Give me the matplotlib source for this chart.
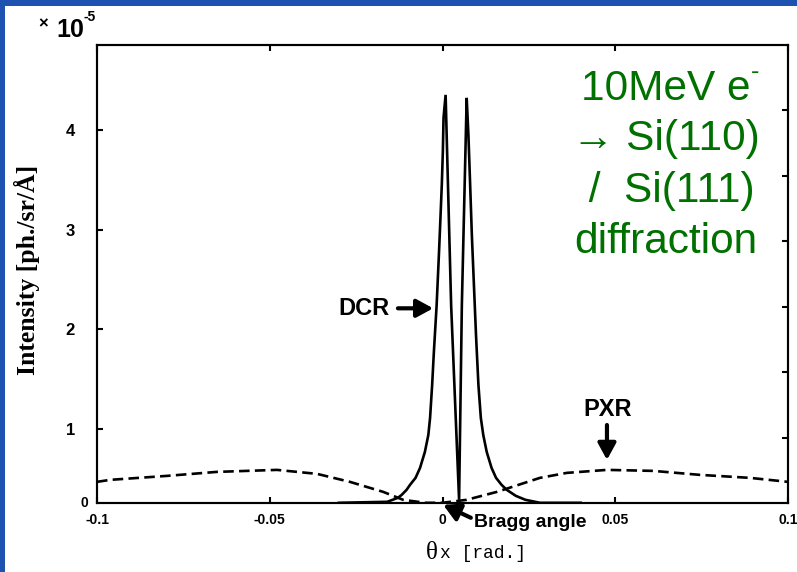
import matplotlib.pyplot as plt
from matplotlib.patches import Rectangle

# DCR (solid) curve, left axis units
dcr_x = [-0.030, -0.016, -0.0129, -0.0118, -0.0104, -0.0094, -0.0078, -0.0065,
         -0.0051, -0.0041, -0.0036, -0.0030, -0.0025, -0.0017, -0.0010, -0.0006,
         -0.0002, 0.0001, 0.0003, 0.0009, 0.0025, 0.0048, 0.0056, 0.0070,
         0.0075, 0.0080, 0.0085, 0.0091, 0.0097, 0.0104, 0.0111, 0.0118,
         0.0128, 0.0142, 0.0155, 0.0171, 0.0186, 0.0212, 0.0240, 0.0282, 0.040]
dcr_y = [0.26, 0.27, 0.31, 0.34, 0.39, 0.44, 0.51, 0.61,
         0.77, 0.94, 1.11, 1.44, 1.77, 2.24, 2.78, 3.11,
         3.45, 3.78, 4.12, 4.35, 2.24, 0.29, 2.24, 4.32,
         3.95, 3.45, 2.94, 2.44, 1.94, 1.44, 1.11, 0.94,
         0.77, 0.61, 0.51, 0.44, 0.39, 0.33, 0.29, 0.26, 0.26]

# PXR (dashed) curve
pxr_x = [-0.1, -0.0962, -0.0797, -0.0653, -0.0479, -0.0363, -0.0268, -0.0172,
         -0.0114, -0.005, 0.0, 0.007, 0.0158, 0.0282, 0.036, 0.0476, 0.061,
         0.0745, 0.089, 0.1]
pxr_y = [0.47, 0.49, 0.53, 0.57, 0.59, 0.55, 0.47, 0.37,
         0.29, 0.26, 0.26, 0.29, 0.37, 0.51, 0.56, 0.59, 0.58,
         0.54, 0.51, 0.47]

x_ticks = [-0.1, -0.05, 0, 0.05, 0.1]
x_tick_labels = ["-0.1", "-0.05", "0", "0.05", "0.1"]
y_ticks = [1, 2, 3, 4]
right_ticks = [1, 2, 3, 4, 5, 6]

note_lines = ["10MeV e", "\u2192 Si(110)", " /  Si(111)", "diffraction"]

SANS = "Liberation Sans"
GREEN = "#007000"

fig = plt.figure(figsize=(7.97, 5.72), dpi=100)
fig.patch.set_facecolor("#1d52b0")

# white slide area
W, H = 797, 572
fig.patches.append(Rectangle((5 / W, 0), 1 - 5 / W, 1 - 6 / H,
                             transform=fig.transFigure, facecolor="white",
                             edgecolor="none", zorder=-10))

ax = fig.add_axes([97 / W, 1 - 503 / H, (788 - 97) / W, (503 - 45) / H])
ax.set_facecolor("white")

ax.plot(dcr_x, dcr_y, color="black", lw=1.9, solid_joinstyle="miter")
ax.plot(pxr_x, pxr_y, color="black", lw=1.9, dashes=(4, 2))

ax.set_xlim(-0.1, 0.1)
ax.set_ylim(0.258, 4.85)

for s in ax.spines.values():
    s.set_linewidth(1.5)

ax.set_xticks(x_ticks)
ax.set_xticklabels(x_tick_labels, fontfamily=SANS, fontweight="bold", fontsize=10)
ax.set_yticks(y_ticks)
ax.set_yticklabels([str(t) for t in y_ticks], fontfamily=SANS,
                   fontweight="bold", fontsize=12)
ax.tick_params(axis="x", direction="in", length=4, width=1.5, pad=7, top=True)
ax.tick_params(axis="y", direction="in", length=4, width=1.5, pad=16)

# right axis with its own tick spacing
ax2 = ax.twinx()
ax2.set_ylim(0, 7)
ax2.set_yticks(right_ticks)
ax2.set_yticklabels([])
ax2.tick_params(axis="y", direction="in", length=4, width=1.5)
for s in ax2.spines.values():
    s.set_linewidth(1.5)

# "0" in the corner
ax.text(-0.1025, 0.258, "0", fontfamily=SANS, fontweight="bold", fontsize=10,
        ha="right", va="center")

# x 10^-5 multiplier
fig.text(43 / W, 1 - 24 / H, "\u00d7", fontfamily=SANS, fontweight="bold",
         fontsize=12, ha="center", va="center")
fig.text(56 / W, 1 - 30 / H, "10", fontfamily=SANS, fontweight="bold",
         fontsize=18, ha="left", va="center")
fig.text(83 / W, 1 - 17 / H, "-5", fontfamily=SANS, fontweight="bold",
         fontsize=10, ha="left", va="center")

# axis labels
fig.text(27 / W, 1 - 270 / H, "Intensity [ph./sr/\u00c5]", rotation=90,
         fontfamily="Liberation Serif", fontweight="bold", fontsize=18.5,
         ha="center", va="center")
fig.text(438 / W, 1 - 553 / H, "\u03b8", fontfamily="Liberation Serif",
         fontsize=18, ha="right", va="center")
fig.text(440 / W, 1 - 553 / H, "x [rad.]", fontfamily="Liberation Mono",
         fontsize=13, ha="left", va="center")

# annotations
arrow = dict(arrowstyle="-|>,head_length=0.55,head_width=0.3", lw=3,
             color="black", mutation_scale=18, shrinkA=0, shrinkB=0)
ax.annotate("", xy=(-0.0027, 2.21), xytext=(-0.0129, 2.21), arrowprops=arrow)
ax.text(-0.0152, 2.21, "DCR", fontfamily=SANS, fontweight="bold", fontsize=17,
        ha="right", va="center")

ax.annotate("", xy=(0.0476, 0.69), xytext=(0.0476, 1.04), arrowprops=arrow)
ax.text(0.0478, 1.2, "PXR", fontfamily=SANS, fontweight="bold", fontsize=17,
        ha="center", va="center")

ax.annotate("", xy=(0.0002, 0.24), xytext=(0.0082, 0.11), arrowprops=arrow,
            annotation_clip=False)
ax.text(0.0091, 0.06, "Bragg angle", fontfamily=SANS, fontweight="bold",
        fontsize=14, ha="left", va="center", clip_on=False)

# green note
line_y = [89, 139, 191, 242]
for txt, yy in zip(note_lines, line_y):
    fig.text(666 / W, 1 - yy / H, txt, fontfamily=SANS, fontsize=30.5,
             color=GREEN, ha="center", va="center")
fig.text(751 / W, 1 - 72 / H, "-", fontfamily=SANS, fontsize=18,
         color=GREEN, ha="left", va="center")

fig.savefig("out.png", dpi=100)
